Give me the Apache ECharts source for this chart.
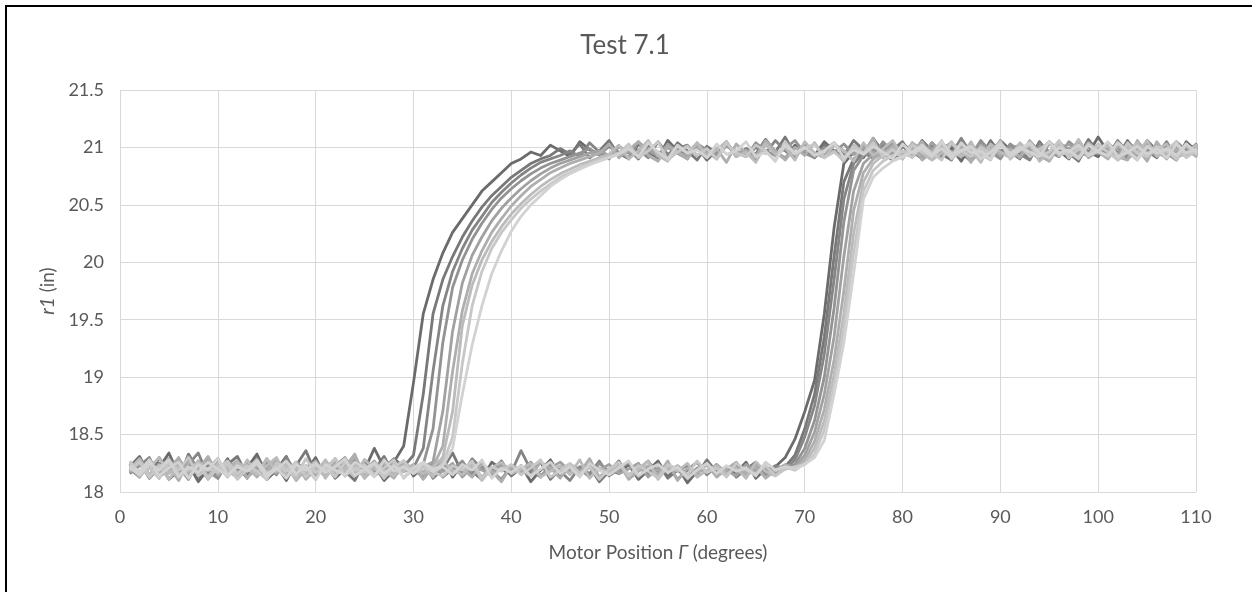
<!DOCTYPE html>
<html>
<head>
<meta charset="utf-8">
<script src="https://cdn.jsdelivr.net/npm/echarts@6/dist/echarts.min.js"></script>
<style>
html, body { margin: 0; padding: 0; background: #fff; overflow: hidden; }
#chart { position: absolute; left: 0; top: 0; width: 1252px; height: 592px; }
#frame { position: absolute; left: 5px; top: 5px; width: 1247px; height: 587px; box-sizing: border-box;
         border-left: 2px solid #000; border-top: 2px solid #000; pointer-events: none; }
</style>
</head>
<body>
<div id="chart"></div>
<div id="frame"></div>
<script>
// Motor position samples (degrees), shared by every run
const gamma = [
  1, 2, 3, 4, 5, 6, 7, 8, 9, 10,
  11, 12, 13, 14, 15, 16, 17, 18, 19, 20,
  21, 22, 23, 24, 25, 26, 27, 28, 29, 30,
  31, 32, 33, 34, 35, 36, 37, 38, 39, 40,
  41, 42, 43, 44, 45, 46, 47, 48, 49, 50,
  51, 52, 53, 54, 55, 56, 57, 58, 59, 60,
  61, 62, 63, 64, 65, 66, 67, 68, 69, 70,
  71, 72, 73, 74, 75, 76, 77, 78, 79, 80,
  81, 82, 83, 84, 85, 86, 87, 88, 89, 90,
  91, 92, 93, 94, 95, 96, 97, 98, 99, 100,
  101, 102, 103, 104, 105, 106, 107, 108, 109, 110
];

// r1 (in) for each run: "up" = increasing Γ, "down" = decreasing Γ (listed by increasing Γ)
const run1Up = [
  18.22, 18.31, 18.14, 18.25, 18.11, 18.19, 18.28, 18.13, 18.24, 18.17,
  18.29, 18.12, 18.21, 18.33, 18.15, 18.23, 18.10, 18.26, 18.18, 18.30,
  18.13, 18.24, 18.16, 18.27, 18.19, 18.38, 18.21, 18.26, 18.40, 18.95,
  19.55, 19.85, 20.08, 20.26, 20.38, 20.50, 20.62, 20.70, 20.78, 20.86,
  20.90, 20.96, 20.93, 21.02, 20.97, 20.92, 21.05, 20.98, 20.94, 21.01,
  20.95, 20.90, 21.03, 20.96, 20.91, 21.06, 20.97, 20.93, 21.00, 20.89,
  20.98, 21.04, 20.92, 20.99, 20.94, 21.07, 20.96, 20.90, 21.02, 20.95,
  20.93, 21.05, 20.97, 20.91, 21.00, 20.94, 21.08, 20.96, 20.92, 21.03,
  20.97, 20.90, 21.04, 20.95, 20.99, 20.88, 21.02, 20.96, 20.93, 21.06,
  20.98, 20.91, 21.01, 20.94, 21.05, 20.97, 20.90, 21.03, 20.95, 21.09,
  20.96, 20.92, 21.04, 20.98, 20.91, 21.02, 20.95, 20.89, 21.05, 20.97
];
const run1Down = [
  18.18, 18.27, 18.12, 18.21, 18.34, 18.15, 18.24, 18.09, 18.20, 18.29,
  18.14, 18.23, 18.17, 18.26, 18.11, 18.19, 18.31, 18.13, 18.22, 18.16,
  18.25, 18.12, 18.20, 18.28, 18.15, 18.23, 18.10, 18.19, 18.27, 18.14,
  18.22, 18.17, 18.30, 18.13, 18.24, 18.18, 18.11, 18.26, 18.20, 18.15,
  18.23, 18.09, 18.19, 18.28, 18.14, 18.21, 18.17, 18.25, 18.12, 18.20,
  18.16, 18.24, 18.11, 18.19, 18.27, 18.13, 18.22, 18.08, 18.18, 18.25,
  18.14, 18.21, 18.17, 18.26, 18.12, 18.20, 18.22, 18.30, 18.46, 18.70,
  18.97, 19.55, 20.30, 20.86, 20.96, 20.91, 21.03, 20.95, 20.89, 21.01,
  20.94, 21.06, 20.97, 20.92, 21.00, 20.95, 20.88, 21.04, 20.96, 20.93,
  21.02, 20.97, 20.90, 21.05, 20.94, 20.99, 20.91, 21.03, 20.96, 20.92,
  21.04, 20.95, 20.98, 20.90, 21.06, 20.97, 20.93, 21.01, 20.96, 20.94
];
const run2Up = [
  18.19, 18.26, 18.13, 18.30, 18.17, 18.22, 18.11, 18.27, 18.20, 18.15,
  18.24, 18.31, 18.14, 18.21, 18.18, 18.28, 18.12, 18.23, 18.36, 18.16,
  18.22, 18.13, 18.27, 18.19, 18.25, 18.14, 18.21, 18.29, 18.22, 18.32,
  18.85, 19.55, 19.85, 20.05, 20.22, 20.36, 20.48, 20.58, 20.66, 20.74,
  20.80, 20.86, 20.90, 20.93, 20.99, 20.94, 21.03, 20.91, 20.97, 21.06,
  20.93, 20.99, 20.90, 21.02, 20.96, 20.92, 21.04, 20.97, 20.89, 21.01,
  20.95, 21.05, 20.93, 20.98, 20.90, 21.03, 20.96, 21.09, 20.94, 20.99,
  20.91, 21.02, 20.96, 20.93, 21.06, 20.98, 20.92, 21.01, 20.95, 20.90,
  21.04, 20.97, 20.93, 21.00, 20.95, 21.07, 20.91, 20.98, 21.03, 20.94,
  20.96, 20.90, 21.05, 20.97, 20.93, 21.01, 20.95, 20.88, 21.04, 20.96,
  20.99, 20.92, 21.06, 20.95, 20.97, 20.91, 21.03, 20.94, 20.98, 21.02
];
const run2Down = [
  18.21, 18.14, 18.28, 18.18, 18.24, 18.11, 18.33, 18.19, 18.15, 18.26,
  18.17, 18.22, 18.12, 18.29, 18.20, 18.16, 18.25, 18.13, 18.21, 18.27,
  18.14, 18.23, 18.18, 18.10, 18.26, 18.19, 18.31, 18.15, 18.22, 18.17,
  18.25, 18.12, 18.20, 18.34, 18.16, 18.23, 18.13, 18.19, 18.27, 18.14,
  18.21, 18.17, 18.26, 18.11, 18.20, 18.24, 18.15, 18.22, 18.09, 18.18,
  18.27, 18.14, 18.21, 18.16, 18.25, 18.12, 18.19, 18.23, 18.15, 18.28,
  18.17, 18.22, 18.13, 18.20, 18.26, 18.16, 18.19, 18.22, 18.32, 18.55,
  18.85, 19.35, 20.05, 20.70, 20.90, 20.96, 21.02, 20.93, 20.98, 21.05,
  20.92, 20.97, 21.01, 20.94, 20.89, 21.03, 20.96, 20.91, 21.06, 20.95,
  20.93, 21.00, 20.97, 20.90, 21.04, 20.95, 20.99, 20.92, 21.07, 20.96,
  20.94, 21.01, 20.90, 20.98, 21.03, 20.95, 20.92, 21.05, 20.97, 20.93
];
const run3Up = [
  18.25, 18.16, 18.22, 18.12, 18.29, 18.19, 18.24, 18.34, 18.14, 18.21,
  18.18, 18.27, 18.13, 18.20, 18.25, 18.15, 18.30, 18.17, 18.22, 18.11,
  18.26, 18.19, 18.23, 18.14, 18.28, 18.20, 18.16, 18.24, 18.18, 18.21,
  18.38, 19.05, 19.62, 19.92, 20.12, 20.28, 20.40, 20.52, 20.61, 20.69,
  20.76, 20.82, 20.87, 20.90, 20.93, 20.97, 20.92, 21.04, 20.96, 20.90,
  21.01, 20.95, 20.98, 20.91, 21.05, 20.94, 20.99, 21.02, 20.93, 20.97,
  20.90, 21.03, 20.96, 20.92, 21.00, 20.95, 21.06, 20.97, 20.91, 21.02,
  20.94, 20.98, 21.04, 20.93, 20.96, 21.01, 20.90, 20.97, 21.03, 20.95,
  20.92, 21.05, 20.96, 20.99, 20.93, 21.08, 20.95, 20.91, 21.02, 20.97,
  21.00, 20.94, 20.89, 21.04, 20.96, 20.98, 20.92, 21.03, 20.95, 20.99,
  20.93, 21.06, 20.96, 20.91, 21.01, 20.97, 20.94, 21.04, 20.92, 20.98
];
const run3Down = [
  18.16, 18.23, 18.30, 18.13, 18.20, 18.26, 18.15, 18.22, 18.18, 18.12,
  18.27, 18.19, 18.24, 18.14, 18.21, 18.17, 18.28, 18.11, 18.23, 18.18,
  18.20, 18.29, 18.15, 18.22, 18.13, 18.25, 18.19, 18.16, 18.24, 18.21,
  18.12, 18.26, 18.18, 18.22, 18.15, 18.29, 18.20, 18.14, 18.23, 18.17,
  18.36, 18.19, 18.13, 18.24, 18.18, 18.10, 18.22, 18.16, 18.27, 18.14,
  18.20, 18.25, 18.13, 18.21, 18.17, 18.23, 18.11, 18.19, 18.26, 18.15,
  18.22, 18.18, 18.24, 18.14, 18.21, 18.17, 18.23, 18.20, 18.28, 18.48,
  18.75, 19.20, 19.85, 20.55, 20.86, 20.95, 20.91, 21.03, 20.97, 20.93,
  21.01, 20.96, 20.90, 21.04, 20.95, 20.98, 20.92, 21.06, 20.96, 20.94,
  21.02, 20.91, 20.97, 21.00, 20.93, 21.05, 20.96, 20.90, 21.01, 20.95,
  20.98, 21.03, 20.92, 20.96, 21.00, 20.94, 21.05, 20.91, 20.97, 21.02
];
const run4Up = [
  18.20, 18.13, 18.27, 18.18, 18.23, 18.15, 18.31, 18.21, 18.12, 18.25,
  18.16, 18.22, 18.19, 18.28, 18.14, 18.24, 18.17, 18.21, 18.13, 18.26,
  18.19, 18.23, 18.30, 18.15, 18.21, 18.18, 18.25, 18.13, 18.22, 18.19,
  18.24, 18.55, 19.30, 19.78, 20.02, 20.20, 20.34, 20.46, 20.56, 20.64,
  20.71, 20.77, 20.82, 20.86, 20.89, 20.92, 20.95, 20.99, 20.93, 21.02,
  20.96, 20.91, 21.05, 20.97, 20.93, 21.00, 20.95, 20.90, 21.03, 20.98,
  20.94, 21.01, 20.96, 20.92, 21.04, 20.97, 20.93, 20.99, 21.06, 20.95,
  20.91, 21.00, 20.96, 21.03, 20.94, 20.98, 20.92, 21.05, 20.96, 20.93,
  21.02, 20.97, 20.91, 20.99, 21.04, 20.95, 20.93, 21.01, 20.96, 20.90,
  21.03, 20.97, 20.94, 21.00, 20.96, 20.92, 21.05, 20.98, 20.93, 21.01,
  20.95, 20.99, 20.91, 21.04, 20.96, 20.93, 21.00, 20.97, 20.92, 21.03
];
const run4Down = [
  18.22, 18.17, 18.26, 18.14, 18.21, 18.29, 18.16, 18.23, 18.19, 18.12,
  18.25, 18.18, 18.22, 18.15, 18.28, 18.20, 18.13, 18.24, 18.17, 18.21,
  18.14, 18.27, 18.19, 18.23, 18.16, 18.21, 18.12, 18.25, 18.18, 18.22,
  18.17, 18.24, 18.13, 18.20, 18.27, 18.15, 18.22, 18.18, 18.11, 18.23,
  18.19, 18.26, 18.14, 18.21, 18.17, 18.24, 18.20, 18.13, 18.25, 18.18,
  18.22, 18.15, 18.20, 18.27, 18.16, 18.23, 18.19, 18.12, 18.21, 18.17,
  18.24, 18.16, 18.21, 18.18, 18.25, 18.15, 18.20, 18.22, 18.24, 18.38,
  18.62, 19.00, 19.60, 20.35, 20.80, 20.93, 20.98, 20.92, 21.04, 20.96,
  20.93, 21.00, 20.95, 20.91, 21.03, 20.97, 20.94, 21.05, 20.96, 20.92,
  20.99, 21.02, 20.94, 20.97, 20.91, 21.04, 20.96, 20.93, 21.00, 20.95,
  21.03, 20.94, 20.98, 20.92, 21.01, 20.96, 20.93, 21.04, 20.97, 20.95
];
const run5Up = [
  18.24, 18.18, 18.21, 18.15, 18.27, 18.20, 18.13, 18.23, 18.28, 18.17,
  18.21, 18.14, 18.25, 18.19, 18.22, 18.16, 18.26, 18.20, 18.15, 18.23,
  18.18, 18.25, 18.14, 18.22, 18.19, 18.27, 18.16, 18.21, 18.24, 18.18,
  18.22, 18.26, 18.70, 19.40, 19.82, 20.06, 20.22, 20.36, 20.47, 20.56,
  20.64, 20.71, 20.77, 20.82, 20.86, 20.89, 20.92, 20.95, 20.97, 20.93,
  21.01, 20.96, 20.94, 20.99, 20.92, 21.03, 20.96, 20.93, 21.00, 20.97,
  20.92, 21.02, 20.95, 20.98, 20.93, 21.04, 20.96, 20.91, 20.99, 21.01,
  20.95, 20.93, 21.03, 20.97, 20.94, 21.00, 20.96, 20.92, 21.02, 20.95,
  20.98, 20.93, 21.04, 20.96, 20.92, 21.01, 20.97, 20.94, 20.99, 21.03,
  20.95, 20.92, 21.00, 20.97, 20.94, 21.02, 20.96, 20.91, 21.04, 20.97,
  20.93, 21.00, 20.96, 20.94, 21.03, 20.97, 20.92, 20.99, 21.01, 20.95
];
const run5Down = [
  18.19, 18.24, 18.15, 18.22, 18.18, 18.26, 18.13, 18.21, 18.25, 18.17,
  18.22, 18.16, 18.24, 18.19, 18.13, 18.27, 18.20, 18.17, 18.23, 18.15,
  18.21, 18.18, 18.26, 18.14, 18.22, 18.19, 18.24, 18.16, 18.20, 18.23,
  18.15, 18.21, 18.18, 18.25, 18.13, 18.22, 18.19, 18.16, 18.24, 18.20,
  18.17, 18.23, 18.14, 18.21, 18.26, 18.18, 18.15, 18.22, 18.19, 18.24,
  18.16, 18.20, 18.25, 18.13, 18.21, 18.18, 18.23, 18.15, 18.20, 18.17,
  18.22, 18.19, 18.14, 18.24, 18.18, 18.21, 18.16, 18.20, 18.22, 18.32,
  18.52, 18.85, 19.35, 20.05, 20.62, 20.86, 20.94, 20.98, 20.93, 21.02,
  20.96, 20.92, 20.99, 21.03, 20.95, 20.93, 21.00, 20.97, 20.94, 21.02,
  20.96, 20.92, 21.01, 20.97, 20.94, 20.99, 21.03, 20.95, 20.93, 21.00,
  20.97, 20.94, 21.02, 20.96, 20.92, 21.00, 20.97, 20.95, 21.01, 20.94
];
const run6Up = [
  18.24, 18.13, 18.28, 18.17, 18.22, 18.10, 18.26, 18.19, 18.31, 18.15,
  18.21, 18.27, 18.12, 18.23, 18.18, 18.29, 18.14, 18.25, 18.11, 18.20,
  18.26, 18.16, 18.22, 18.33, 18.13, 18.24, 18.19, 18.12, 18.27, 18.18,
  18.23, 18.22, 18.40, 19.05, 19.58, 19.90, 20.10, 20.26, 20.38, 20.49,
  20.58, 20.66, 20.72, 20.78, 20.82, 20.86, 20.89, 20.92, 20.95, 21.03,
  20.91, 20.98, 21.05, 20.93, 20.88, 21.01, 20.96, 20.90, 21.04, 20.94,
  20.99, 20.87, 21.03, 20.95, 20.91, 21.06, 20.97, 20.89, 21.00, 20.93,
  21.04, 20.92, 20.97, 20.88, 21.02, 20.95, 21.08, 20.91, 20.98, 20.94,
  21.03, 20.89, 20.96, 21.05, 20.92, 20.99, 20.87, 21.02, 20.95, 21.06,
  20.90, 20.98, 21.04, 20.93, 20.88, 21.01, 20.96, 21.05, 20.91, 20.97,
  21.03, 20.92, 20.89, 21.06, 20.95, 20.99, 20.90, 21.02, 20.94, 21.00
];
const run6Down = [
  18.17, 18.28, 18.12, 18.23, 18.19, 18.30, 18.14, 18.25, 18.11, 18.21,
  18.26, 18.15, 18.22, 18.13, 18.29, 18.18, 18.24, 18.10, 18.20, 18.27,
  18.14, 18.23, 18.18, 18.31, 18.12, 18.21, 18.26, 18.15, 18.19, 18.24,
  18.11, 18.22, 18.28, 18.16, 18.20, 18.13, 18.25, 18.18, 18.09, 18.23,
  18.19, 18.14, 18.26, 18.21, 18.12, 18.24, 18.17, 18.29, 18.13, 18.20,
  18.25, 18.11, 18.18, 18.23, 18.15, 18.27, 18.10, 18.21, 18.16, 18.24,
  18.13, 18.20, 18.26, 18.15, 18.22, 18.12, 18.19, 18.24, 18.20, 18.28,
  18.44, 18.72, 19.15, 19.75, 20.45, 20.78, 20.90, 20.95, 21.01, 20.92,
  20.97, 21.05, 20.90, 20.99, 20.94, 21.03, 20.88, 20.96, 21.02, 20.93,
  20.99, 20.91, 21.06, 20.95, 20.89, 21.00, 20.97, 20.92, 21.04, 20.96,
  20.90, 21.02, 20.95, 20.99, 20.88, 21.05, 20.93, 20.98, 21.01, 20.92
];
const run7Up = [
  18.20, 18.29, 18.15, 18.24, 18.11, 18.22, 18.18, 18.27, 18.13, 18.25,
  18.19, 18.12, 18.28, 18.16, 18.23, 18.30, 18.14, 18.21, 18.17, 18.26,
  18.12, 18.24, 18.19, 18.15, 18.28, 18.21, 18.13, 18.25, 18.18, 18.23,
  18.16, 18.22, 18.30, 18.70, 19.45, 19.80, 20.02, 20.18, 20.31, 20.42,
  20.51, 20.59, 20.66, 20.72, 20.77, 20.81, 20.85, 20.88, 20.91, 20.94,
  21.02, 20.90, 20.97, 21.06, 20.93, 20.88, 21.01, 20.95, 21.04, 20.91,
  20.98, 21.05, 20.92, 20.96, 20.87, 21.03, 20.94, 21.00, 20.89, 21.05,
  20.95, 20.91, 21.02, 20.97, 20.88, 21.04, 20.93, 20.99, 21.06, 20.92,
  20.96, 21.01, 20.89, 20.95, 21.05, 20.92, 20.98, 20.87, 21.03, 20.96,
  20.91, 21.04, 20.95, 20.99, 20.90, 21.02, 20.94, 21.07, 20.93, 20.97,
  21.01, 20.89, 20.96, 21.04, 20.92, 20.98, 21.03, 20.91, 20.95, 21.02
];
const run7Down = [
  18.25, 18.14, 18.21, 18.30, 18.16, 18.23, 18.12, 18.27, 18.19, 18.22,
  18.13, 18.26, 18.20, 18.15, 18.29, 18.18, 18.24, 18.11, 18.22, 18.17,
  18.28, 18.15, 18.21, 18.24, 18.12, 18.26, 18.19, 18.14, 18.23, 18.18,
  18.22, 18.13, 18.27, 18.19, 18.15, 18.24, 18.10, 18.21, 18.26, 18.16,
  18.20, 18.25, 18.13, 18.18, 18.23, 18.15, 18.28, 18.12, 18.21, 18.17,
  18.24, 18.14, 18.20, 18.27, 18.11, 18.22, 18.18, 18.25, 18.13, 18.19,
  18.23, 18.16, 18.21, 18.12, 18.26, 18.18, 18.14, 18.22, 18.19, 18.25,
  18.38, 18.62, 19.02, 19.55, 20.25, 20.70, 20.86, 20.93, 20.99, 20.91,
  21.04, 20.95, 20.89, 21.01, 20.96, 20.92, 21.05, 20.90, 20.98, 21.03,
  20.93, 20.97, 21.02, 20.88, 20.96, 21.05, 20.91, 20.99, 20.94, 21.03,
  20.96, 20.90, 21.01, 20.95, 21.06, 20.92, 20.97, 20.89, 21.03, 20.95
];
const run8Up = [
  18.27, 18.16, 18.22, 18.12, 18.25, 18.19, 18.30, 18.14, 18.21, 18.17,
  18.24, 18.11, 18.20, 18.28, 18.15, 18.22, 18.18, 18.26, 18.13, 18.23,
  18.19, 18.29, 18.14, 18.21, 18.17, 18.25, 18.12, 18.22, 18.27, 18.16,
  18.21, 18.18, 18.24, 18.48, 19.12, 19.62, 19.92, 20.12, 20.26, 20.37,
  20.47, 20.55, 20.62, 20.68, 20.74, 20.78, 20.82, 20.86, 20.89, 20.92,
  20.95, 21.03, 20.91, 20.97, 21.05, 20.89, 20.96, 21.01, 20.93, 20.99,
  20.90, 21.04, 20.95, 20.92, 21.02, 20.97, 20.88, 21.05, 20.94, 20.99,
  21.03, 20.91, 20.96, 20.89, 21.01, 20.95, 21.04, 20.92, 20.98, 20.90,
  21.02, 20.96, 20.93, 21.06, 20.90, 20.97, 21.00, 20.94, 20.89, 21.04,
  20.95, 21.01, 20.92, 20.98, 21.05, 20.93, 20.96, 20.90, 21.03, 20.97,
  20.92, 21.04, 20.96, 20.89, 21.01, 20.95, 20.98, 21.05, 20.91, 20.97
];
const run8Down = [
  18.19, 18.26, 18.13, 18.22, 18.28, 18.15, 18.20, 18.24, 18.12, 18.21,
  18.27, 18.16, 18.23, 18.18, 18.11, 18.25, 18.20, 18.14, 18.29, 18.17,
  18.22, 18.13, 18.26, 18.19, 18.24, 18.15, 18.21, 18.28, 18.12, 18.20,
  18.25, 18.17, 18.14, 18.23, 18.19, 18.27, 18.12, 18.22, 18.18, 18.24,
  18.15, 18.21, 18.28, 18.13, 18.19, 18.25, 18.16, 18.22, 18.11, 18.20,
  18.26, 18.14, 18.23, 18.18, 18.12, 18.24, 18.20, 18.15, 18.27, 18.17,
  18.21, 18.13, 18.25, 18.19, 18.16, 18.23, 18.14, 18.20, 18.22, 18.24,
  18.33, 18.54, 18.92, 19.42, 20.08, 20.62, 20.80, 20.88, 20.93, 20.97,
  20.91, 21.02, 20.95, 20.89, 21.04, 20.97, 20.92, 21.00, 20.94, 21.05,
  20.90, 20.98, 21.03, 20.93, 20.96, 21.06, 20.91, 20.99, 20.94, 21.02,
  20.96, 20.89, 21.04, 20.95, 20.92, 21.01, 20.97, 20.90, 21.03, 20.94
];
const run9Up = [
  18.23, 18.18, 18.28, 18.14, 18.21, 18.26, 18.12, 18.24, 18.19, 18.29,
  18.15, 18.22, 18.18, 18.25, 18.13, 18.20, 18.27, 18.16, 18.23, 18.11,
  18.24, 18.19, 18.15, 18.26, 18.21, 18.13, 18.28, 18.18, 18.22, 18.16,
  18.25, 18.20, 18.23, 18.38, 18.85, 19.28, 19.62, 19.90, 20.10, 20.27,
  20.40, 20.50, 20.58, 20.66, 20.72, 20.77, 20.81, 20.85, 20.88, 20.91,
  20.94, 20.99, 20.92, 21.04, 20.96, 20.90, 21.02, 20.95, 20.98, 20.91,
  21.03, 20.94, 20.97, 21.05, 20.92, 20.96, 20.89, 21.02, 20.95, 21.00,
  20.93, 20.97, 21.04, 20.91, 20.98, 20.94, 21.01, 20.96, 20.90, 21.03,
  20.95, 20.99, 20.92, 21.05, 20.94, 20.97, 21.01, 20.90, 20.96, 21.03,
  20.93, 20.98, 21.04, 20.95, 20.91, 21.00, 20.96, 21.02, 20.93, 20.97,
  21.05, 20.92, 20.96, 21.01, 20.94, 20.99, 20.91, 21.03, 20.95, 20.98
];
const run9Down = [
  18.21, 18.15, 18.25, 18.19, 18.28, 18.13, 18.22, 18.17, 18.26, 18.20,
  18.14, 18.23, 18.18, 18.27, 18.16, 18.21, 18.12, 18.24, 18.19, 18.25,
  18.17, 18.22, 18.29, 18.14, 18.20, 18.25, 18.16, 18.23, 18.13, 18.21,
  18.26, 18.18, 18.22, 18.15, 18.24, 18.19, 18.28, 18.12, 18.21, 18.17,
  18.23, 18.14, 18.20, 18.26, 18.16, 18.22, 18.13, 18.25, 18.19, 18.15,
  18.21, 18.27, 18.14, 18.20, 18.24, 18.17, 18.22, 18.12, 18.19, 18.25,
  18.16, 18.23, 18.18, 18.21, 18.14, 18.26, 18.19, 18.22, 18.20, 18.24,
  18.30, 18.45, 18.85, 19.30, 19.90, 20.55, 20.74, 20.82, 20.88, 20.92,
  20.96, 21.02, 20.93, 20.99, 20.91, 21.04, 20.95, 20.97, 20.90, 21.03,
  20.94, 21.00, 20.96, 20.92, 21.05, 20.95, 20.98, 20.91, 21.02, 20.96,
  20.93, 21.04, 20.97, 20.90, 21.01, 20.95, 20.99, 20.93, 21.03, 20.96
];

const runs = [
  [run1Up, run1Down], [run2Up, run2Down], [run3Up, run3Down],
  [run4Up, run4Down], [run5Up, run5Down], [run6Up, run6Down],
  [run7Up, run7Down], [run8Up, run8Down], [run9Up, run9Down]
];
const shades = ['#6b6b6b', '#787878', '#858585', '#939393', '#a1a1a1',
                '#aeaeae', '#bbbbbb', '#c7c7c7', '#d2d2d2'];

const xTicks = { min: 0, max: 110, step: 10 };
const yTicks = { min: 18, max: 21.5, step: 0.5 };

const textGray = '#595959';
const gridGray = '#d9d9d9';
const FONT = 'Lato, "Open Sans", sans-serif';

// each run is one closed sweep: up the Γ range, then back down
const series = runs.map(([up, down], i) => {
  const upPts = gamma.map((g, k) => [g, up[k]]);
  const downPts = gamma.map((g, k) => [g, down[k]]).reverse();
  return {
    type: 'line',
    name: 'Run ' + (i + 1),
    data: upPts.concat(downPts),
    showSymbol: false,
    symbol: 'none',
    silent: true,
    lineStyle: { color: shades[i], width: 2.8, join: 'round' },
    z: 2 + i
  };
});

const chart = echarts.init(document.getElementById('chart'), null, { renderer: 'canvas' });
chart.setOption({
  animation: false,
  backgroundColor: '#fff',
  textStyle: { fontFamily: FONT },
  title: {
    text: 'Test 7.1',
    left: 620,
    textAlign: 'center',
    top: 28,
    textStyle: { fontFamily: FONT, fontSize: 26, fontWeight: 'normal', color: textGray }
  },
  grid: { left: 120, right: 56, top: 90, bottom: 100, containLabel: false },
  xAxis: {
    type: 'value',
    min: xTicks.min, max: xTicks.max, interval: xTicks.step,
    name: 'Motor Position {i|Γ} (degrees)',
    nameLocation: 'middle',
    nameGap: 51,
    nameTextStyle: {
      fontFamily: FONT, fontSize: 19, color: textGray,
      rich: { i: { fontFamily: FONT, fontSize: 19, color: textGray, fontStyle: 'italic' } }
    },
    axisLine: { show: true, lineStyle: { color: gridGray, width: 1 } },
    axisTick: { show: false },
    axisLabel: { color: textGray, fontSize: 18, fontFamily: FONT, margin: 16 },
    splitLine: { show: true, lineStyle: { color: gridGray, width: 1 } }
  },
  yAxis: {
    type: 'value',
    min: yTicks.min, max: yTicks.max, interval: yTicks.step,
    name: '{i|r1} (in)',
    nameLocation: 'middle',
    nameRotate: 90,
    nameGap: 62,
    nameTextStyle: {
      fontFamily: FONT, fontSize: 19, color: textGray,
      rich: { i: { fontFamily: FONT, fontSize: 19, color: textGray, fontStyle: 'italic' } }
    },
    axisLine: { show: false },
    axisTick: { show: false },
    axisLabel: { color: textGray, fontSize: 18, fontFamily: FONT, margin: 16 },
    splitLine: { show: true, lineStyle: { color: gridGray, width: 1 } }
  },
  series: series
});
</script>
</body>
</html>
